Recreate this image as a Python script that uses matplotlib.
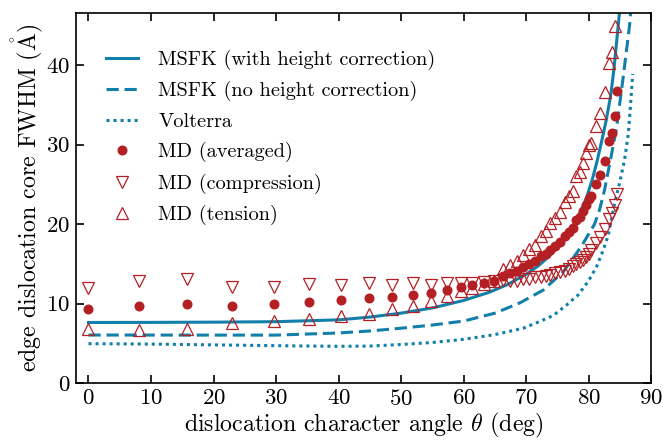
import matplotlib
matplotlib.use("Agg")
import matplotlib.pyplot as plt

plt.rcParams['font.family'] = ['cmr10', 'DejaVu Serif']
plt.rcParams['mathtext.fontset'] = 'cm'
plt.rcParams['axes.formatter.use_mathtext'] = True

blue = '#127fab'
red = '#b41f24'

# theory curves
msfk_h_x = [0, 10, 20, 30, 40, 45, 50, 55, 60, 64, 67, 70, 72, 74, 76, 77.5,
            78.5, 79.6, 80.5, 81.3, 82, 82.8, 83.5, 84, 84.5, 85, 85.3]
msfk_h_y = [7.62, 7.63, 7.66, 7.72, 7.95, 8.3, 8.8, 9.45, 10.4, 11.4, 12.4, 13.7,
            14.8, 16.2, 18.1, 19.8, 21.2, 23.3, 25.5, 27.9, 30.3, 33.2, 36.3,
            39.5, 43.5, 47.5, 50.0]

msfk_x = [0, 20, 30, 40, 45, 50, 55, 60, 65, 69, 72.7, 75.9, 78.8, 80.9, 81.7,
          82.5, 83.3, 84.4, 85.4, 86.5, 87.0]
msfk_y = [6.04, 6.03, 6.03, 6.3, 6.55, 6.9, 7.3, 7.8, 8.8, 10.1, 11.7, 14.0,
          17.2, 20.0, 21.8, 24.3, 27.5, 32.0, 38.0, 45.0, 50.0]

volt_x = [0, 10, 20, 30, 40, 45, 50, 55, 60, 65, 69.5, 72, 74.3, 76.4, 78.3,
          79.9, 81.2, 82.3, 83.1, 84.1, 85, 85.7, 86.3, 86.6, 87.0]
volt_y = [4.95, 4.9, 4.8, 4.7, 4.62, 4.65, 4.85, 5.1, 5.5, 6.1, 6.9, 7.7, 8.5,
          9.8, 11.1, 12.8, 14.6, 16.75, 18.6, 22.6, 25.5, 28.1, 31.4, 34.4, 38.9]

# MD data
theta = [0, 8.0, 15.8, 23.0, 29.6, 35.3, 40.4, 44.8, 48.6, 51.9, 54.8, 57.3,
         59.5, 61.3, 63.2, 64.8, 66.3, 67.4, 68.5, 69.5, 70.5, 71.4, 72.3,
         73.1, 73.8, 74.6, 75.4, 76.1, 76.8, 77.4, 78.0, 78.5, 79.0, 79.5,
         80.0, 80.4, 81.1, 81.8, 82.5, 83.2, 83.7, 84.1, 84.5]
md_avg = [9.35, 9.75, 9.95, 9.75, 9.95, 10.2, 10.4, 10.65, 10.8, 11.1, 11.3,
          11.7, 12.05, 12.3, 12.6, 12.85, 13.5, 13.8, 14.1, 14.6, 15.0, 15.3,
          16.0, 16.3, 16.8, 17.2, 17.8, 18.5, 19.0, 19.5, 20.5, 20.9, 21.6,
          22.4, 23.1, 23.5, 25.0, 26.2, 28.0, 30.5, 31.5, 33.6, 36.8]
md_comp = [12.0, 12.85, 13.06, 12.05, 12.1, 12.45, 12.35, 12.65, 12.35, 12.55,
           12.35, 12.6, 12.65, 12.6, 12.75, 12.8, 12.95, 12.8, 12.9, 13.05,
           13.15, 13.3, 13.4, 13.5, 13.6, 13.8, 13.95, 14.1, 14.4, 14.7, 15.0,
           15.2, 15.5, 15.9, 16.3, 16.8, 17.6, 18.4, 19.4, 20.6, 21.4, 22.4,
           23.8]
md_tens = [6.76, 6.68, 6.84, 7.5, 7.8, 8.02, 8.44, 8.73, 9.36, 9.7, 10.33,
           10.9, 11.55, 12.0, 12.5, 12.9, 14.4, 14.9, 15.3, 16.1, 16.9, 17.4,
           18.5, 19.1, 20.2, 20.8, 21.5, 22.8, 23.6, 24.2, 26.0, 26.6, 27.7,
           28.9, 29.9, 30.2, 32.4, 34.0, 36.6, 40.3, 41.6, 44.9, 49.8]

fig = plt.figure(figsize=(6.63, 4.4), dpi=100)
ax = fig.add_axes([0.1146, 0.1295, 0.868, 0.8415])

ax.plot(msfk_h_x, msfk_h_y, '-', color=blue, lw=2.2,
        label='MSFK (with height correction)')
ax.plot(msfk_x, msfk_y, '--', color=blue, lw=2.2, dashes=(4, 1.9),
        label='MSFK (no height correction)')
ax.plot(volt_x, volt_y, ':', color=blue, lw=2.2, dashes=(1, 1.3),
        label='Volterra')

ax.plot(theta, md_avg, 'o', color=red, ms=6.2, ls='none', label='MD (averaged)')
ax.plot(theta, md_comp, 'v', mfc='none', mec=red, mew=0.9, ms=9, ls='none',
        label='MD (compression)')
ax.plot(theta, md_tens, '^', mfc='none', mec=red, mew=0.9, ms=9, ls='none',
        label='MD (tension)')

ax.set_xlim(-2, 90)
ax.set_ylim(0, 46.6)
ax.set_xticks(range(0, 91, 10))
ax.set_yticks(range(0, 41, 10))
ax.tick_params(direction='in', top=True, right=True, length=6, width=1.2,
               labelsize=16.5, pad=4)
for s in ax.spines.values():
    s.set_linewidth(1.2)

ax.set_xlabel(r'dislocation character angle $\theta$ (deg)', fontsize=17.2,
              labelpad=2)
ax.set_ylabel(r'edge dislocation core FWHM ($\mathring{\mathrm{A}}$)',
              fontsize=17.2, labelpad=1)

ax.legend(loc='upper left', frameon=False, fontsize=14.6, handlelength=1.6,
          handletextpad=1.0, bbox_to_anchor=(0.02, 0.95), labelspacing=0.56)

fig.savefig('out.png', dpi=100)
